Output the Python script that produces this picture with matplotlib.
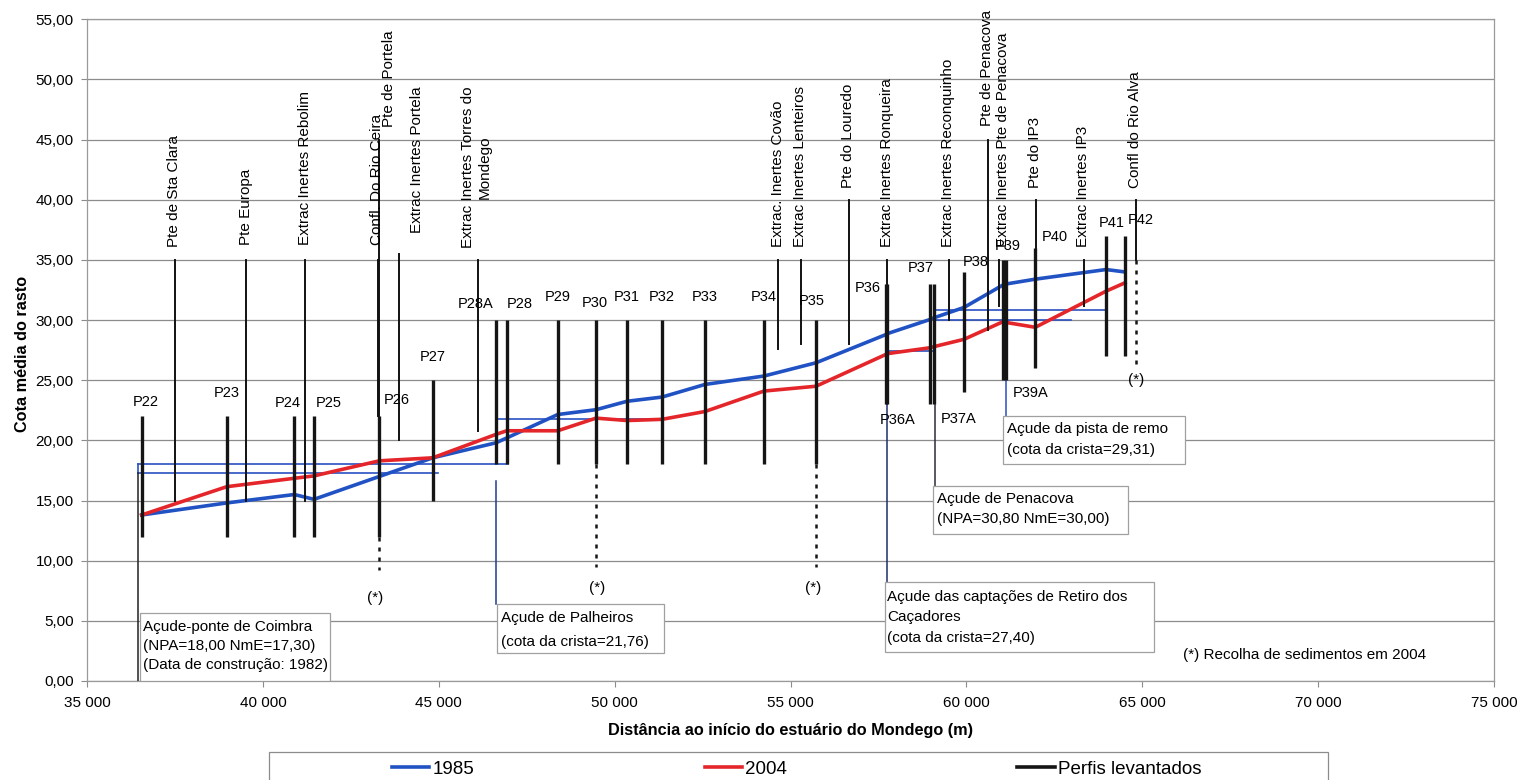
import matplotlib
matplotlib.use("Agg")
import matplotlib.pyplot as plt
from matplotlib.patches import Rectangle
from matplotlib.lines import Line2D
from matplotlib.ticker import FuncFormatter, MultipleLocator

plt.rcParams['font.family'] = ['Liberation Sans', 'DejaVu Sans']

# ---------------------------------------------------------------- data
# Surveyed cross-sections: distance to the estuary start (m) and bar extent (m)
profile_names = ["P22", "P23", "P24", "P25", "P26", "P27", "P28A", "P28", "P29",
                 "P30", "P31", "P32", "P33", "P34", "P35", "P36", "P36A", "P37",
                 "P37A", "P38", "P39", "P39A", "P40", "P41", "P42"]
profile_dist = [36555, 38972, 40894, 41454, 43310, 44828, 46628, 46932, 48382,
                49471, 50352, 51347, 52570, 54247, 55725, 57716, 57730, 58967,
                59089, 59933, 61030, 61130, 61960, 63970, 64510]
profile_top = [22, 22, 22, 22, 22, 25, 30, 30, 30, 30, 30, 30, 30, 30, 30,
               33, 33, 33, 33, 34, 35, 35, 36, 37, 37]
profile_bottom = [12, 12, 12, 12, 12, 15, 18, 18, 18, 18, 18, 18, 18, 18, 18,
                  23, 23, 23, 23, 24, 25, 25, 26, 27, 27]

# Mean bed level at each cross-section
bed_1985 = [13.8, 14.8, 15.5, 15.1, 17.0, 18.55, 19.8, 20.2, 22.15, 22.55, 23.25,
            23.6, 24.65, 25.35, 26.45, 28.8, 28.85, 30.05, 30.2, 31.05, 32.9,
            33.0, 33.4, 34.2, 34.0]
bed_2004 = [13.8, 16.15, 16.85, 17.05, 18.3, 18.55, 20.5, 20.8, 20.8, 21.85, 21.65,
            21.75, 22.4, 24.1, 24.5, 27.15, 27.2, 27.7, 27.8, 28.4, 29.85, 29.8,
            29.4, 32.4, 33.1]

# Landmarks along the river (bridges, sand extraction sites, confluences)
landmark_names = ["Pte de Sta Clara", "Pte Europa", "Extrac Inertes Rebolim",
                  "Confl. Do Rio Ceira", "Pte de Portela", "Extrac Inertes Portela",
                  "Extrac Inertes Torres do\nMondego", "Extrac. Inertes Covão",
                  "Extrac Inertes Lenteiros", "Pte do Louredo",
                  "Extrac Inertes Ronqueira", "Extrac Inertes Reconquinho",
                  "Pte de Penacova", "Extrac Inertes Pte de Penacova", "Pte do IP3",
                  "Extrac Inertes IP3", "Confl do Rio Alva"]
landmark_dist = [37502, 39512, 41198, 43265, 43310, 43879, 46125, 54636, 55290,
                 56672, 57735, 59498, 60624, 60928, 61980, 63353, 64823]
landmark_top = [35, 35, 35, 35, 45, 35.5, 35, 35, 35, 40, 35, 35, 45, 35, 40, 35, 40]
landmark_bottom = [15, 15, 15, 22, 22, 20, 20.8, 27.6, 28, 28, 33, 30, 29.2,
                   31.2, 36, 31.2, 35]

# Weir levels (m) and the reach each level is drawn over
weir_levels = [18.00, 17.30, 21.76, 27.40, 30.80, 30.00]
weir_start = [36440, 36440, 46630, 57720, 59100, 59100]
weir_end = [46960, 44970, 51470, 59100, 63980, 62980]

# Sediment sampling in 2004
sample_dist = [43310, 49471, 55725, 64823]
sample_top = [12, 18, 18, 35]
sample_bottom = [9.2, 9.5, 9.5, 26.2]

# ---------------------------------------------------------------- layout
profile_label_pos = {
    "P22": (36677, 23.2), "P23": (38972, 23.9), "P24": (40714, 23.1),
    "P25": (41880, 23.1), "P26": (43813, 23.35), "P27": (44828, 26.95),
    "P28A": (46059, 31.3), "P28": (47290, 31.3), "P29": (48382, 31.95),
    "P30": (49423, 31.4), "P31": (50344, 31.95), "P32": (51347, 31.95),
    "P33": (52570, 31.95), "P34": (54247, 31.95), "P35": (55603, 31.6),
    "P36": (57184, 32.7), "P36A": (58037, 21.7), "P37": (58711, 34.35),
    "P37A": (59771, 21.8), "P38": (60275, 34.85), "P39": (61175, 36.15),
    "P39A": (61838, 23.9), "P40": (62500, 36.9), "P41": (64132, 38.1),
    "P42": (64965, 38.3),
}
landmark_label_x = [37473, 39512, 41198, 43236, 43594, 44373, 46080, 54636, 55270,
                    56643, 57735, 59470, 60577, 61033, 61952, 63325, 64795]
landmark_label_y = [36.05, 36.2, 36.2, 36.2, 46.05, 37.2, 36.0, 36.05, 36.05, 41.0,
                    36.05, 36.05, 46.1, 36.05, 41.0, 36.05, 41.0]
sample_mark_pos = [(43188, 6.9), (49491, 7.7), (55640, 7.7), (64823, 25.0)]

C1985 = "#2152c4"
C2004 = "#e4262b"
CWEIR = "#2a50c2"
GRID = "#8c8c8c"
FS = 11

fig = plt.figure(figsize=(15.19, 7.80), dpi=100)
ax = fig.add_axes([87 / 1519, 1 - 681 / 780, 1407 / 1519, 661.7 / 780])
ax.set_xlim(35000, 75000)
ax.set_ylim(0, 55)

ax.xaxis.set_major_locator(MultipleLocator(5000))
ax.yaxis.set_major_locator(MultipleLocator(5))
ax.xaxis.set_major_formatter(FuncFormatter(lambda v, p: f"{int(v):,}".replace(",", " ")))
ax.yaxis.set_major_formatter(FuncFormatter(lambda v, p: f"{v:.2f}".replace(".", ",")))
ax.tick_params(axis="both", direction="out", length=4.5, width=0.8, color=GRID,
               labelsize=FS)
ax.tick_params(axis="x", pad=6.5)
ax.tick_params(axis="y", pad=5)
ax.yaxis.grid(True, color=GRID, lw=0.9)
ax.set_axisbelow(True)
for s in ax.spines.values():
    s.set_color("#9a9a9a")
    s.set_linewidth(0.9)

# weir levels
for lev, x0, x1 in zip(weir_levels, weir_start, weir_end):
    ax.plot([x0, x1], [lev, lev], color=CWEIR, lw=1.2, zorder=2)
ax.plot([weir_start[0]] * 2, [weir_levels[1], weir_levels[0]], color=CWEIR, lw=1.2, zorder=2)
ax.plot([weir_start[2]] * 2, [weir_levels[0], weir_levels[2]], color=CWEIR, lw=1.2, zorder=2)
ax.plot([weir_start[4]] * 2, [weir_levels[3], weir_levels[4]], color=CWEIR, lw=1.2, zorder=2)

# bed profiles
line85, = ax.plot(profile_dist, bed_1985, color=C1985, lw=2.6, zorder=3,
                  solid_joinstyle="round")
line04, = ax.plot(profile_dist, bed_2004, color=C2004, lw=2.6, zorder=3,
                  solid_joinstyle="round")

# landmark markers and labels
for name, x, top, bot, lx, ly in zip(landmark_names, landmark_dist, landmark_top,
                                      landmark_bottom, landmark_label_x, landmark_label_y):
    ax.plot([x, x], [bot, top], color="#111111", lw=1.4, zorder=4)
    ax.text(lx, ly, name, rotation=90, ha="center", va="bottom",
            multialignment="center", fontsize=FS, zorder=6, linespacing=1.25)

# surveyed cross-sections
bars = ax.vlines(profile_dist, profile_bottom, profile_top, colors="#151515",
                 lw=2.4, zorder=5)
for name in profile_names:
    lx, ly = profile_label_pos[name]
    ax.text(lx, ly, name, ha="center", va="center", fontsize=10.5, zorder=6)

# sediment sampling
for x, t, b in zip(sample_dist, sample_top, sample_bottom):
    ax.plot([x, x], [t, b], color="#151515", lw=1.8, ls=(0, (1.6, 2.4)), zorder=5)
for x, y in sample_mark_pos:
    ax.text(x, y, "(*)", ha="center", va="center", fontsize=FS, zorder=6)

# weir annotation boxes: connector (x, y from, y to, colour), box, text lines
annotations = [
    dict(conn=(36440, 17.3, 0.0, "#222222"), box=(36507, 0.0, 41908, 5.65),
         tx=36600, lines=["Açude-ponte de Coimbra", "(NPA=18,00 NmE=17,30)",
                          "(Data de construção: 1982)"], ys=[4.51, 2.93, 1.33]),
    dict(conn=(46630, 16.6, 6.40, "#1f3a8f"), box=(46648, 2.30, 51413, 6.40),
         tx=46762, lines=["Açude de Palheiros", "(cota da crista=21,76)"],
         ys=[5.21, 3.27]),
    dict(conn=(57735, 23.0, 8.25, "#1e2f6b"), box=(57687, 2.44, 65335, 8.25),
         tx=57752, lines=["Açude das captações de Retiro dos", "Caçadores",
                          "(cota da crista=27,40)"], ys=[7.01, 5.30, 3.60]),
    dict(conn=(59120, 23.0, 16.21, "#2b2b3b"), box=(59060, 12.22, 64604, 16.21),
         tx=59157, lines=["Açude de Penacova", "(NPA=30,80 NmE=30,00)"],
         ys=[15.13, 13.44]),
    dict(conn=(61130, 25.0, 22.05, "#2a50c2"), box=(61050, 18.04, 66216, 22.05),
         tx=61147, lines=["Açude da pista de remo", "(cota da crista=29,31)"],
         ys=[20.92, 19.2]),
]
for a in annotations:
    cx, cy0, cy1, cc = a["conn"]
    ax.plot([cx, cx], [cy0, cy1], color=cc, lw=1.1, zorder=4)
    x0, y0, x1, y1 = a["box"]
    ax.add_patch(Rectangle((x0, y0), x1 - x0, y1 - y0, facecolor="white",
                           edgecolor="#a0a0a0", lw=0.9, zorder=7))
    for line, y in zip(a["lines"], a["ys"]):
        ax.text(a["tx"], y, line, ha="left", va="center", fontsize=FS, zorder=8)

ax.text(66168, 2.16, "(*) Recolha de sedimentos em 2004", ha="left", va="center",
        fontsize=FS, zorder=8)

# axis titles
fig.text(790 / 1519, 1 - 731 / 780, "Distância ao início do estuário do Mondego (m)",
         ha="center", va="center", fontsize=11.7, fontweight="bold")
fig.text(23 / 1519, 1 - 354 / 780, "Cota média do rasto", rotation=90,
         ha="center", va="center", fontsize=11.7, fontweight="bold")

# legend
fig.patches.append(Rectangle((269 / 1519, -0.02), (1328 - 269) / 1519,
                             0.02 + 1 - 752 / 780, transform=fig.transFigure,
                             facecolor="white", edgecolor="#8c8c8c", lw=0.9))
perfis = Line2D([], [], color="#151515", lw=2.6)
fig.legend([line85, line04, perfis], ["1985", "2004", "Perfis levantados"],
           ncol=3, frameon=False, loc="center",
           bbox_to_anchor=(796.5 / 1519, 1 - 769 / 780), fontsize=13.5,
           handlelength=2.0, handletextpad=0.15, columnspacing=12.3,
           borderpad=0, borderaxespad=0)

fig.savefig("out.png", dpi=100)
